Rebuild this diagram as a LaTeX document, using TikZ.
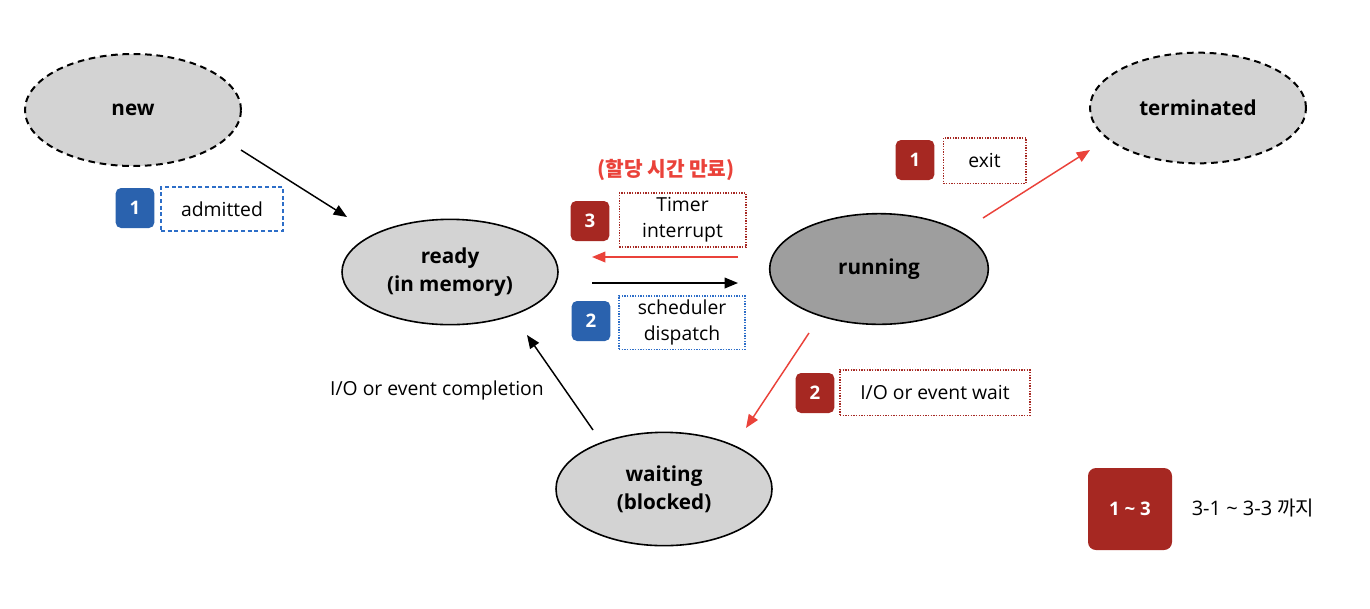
\documentclass[tikz,border=0pt]{standalone}
\usepackage{fontspec}
\setmainfont{Open Sans}
\newfontfamily\kofont{Noto Sans CJK KR}
\usepackage{tikz}
\usetikzlibrary{shapes.geometric,arrows.meta}
\definecolor{stategray}{RGB}{211,211,211}
\definecolor{rungray}{RGB}{158,158,158}
\definecolor{badgered}{RGB}{166,40,34}
\definecolor{badgeblue}{RGB}{42,98,174}
\definecolor{arrowred}{RGB}{234,66,58}
\definecolor{boxblue}{RGB}{45,110,200}
\tikzset{every picture/.style={line width=0.75pt}}
\tikzset{
  state/.style={ellipse, draw, fill=stategray, line width=1.2pt, minimum width=162pt, minimum height=82pt, inner sep=0pt, align=center, font=\fontsize{15.5}{21}\selectfont\bfseries},
  endstate/.style={state, line width=1.5pt, dash pattern={on 5pt off 3.5pt}},
  badge/.style={rounded corners=4pt, fill=#1, text=white, minimum width=29pt, minimum height=30pt, inner sep=0pt, font=\fontsize{14}{15}\selectfont\bfseries},
  tagbox/.style={draw=#1, fill=white, line width=1pt, dash pattern={on 1pt off 1pt}, align=center, inner sep=0pt, font=\fontsize{14.5}{19.5}\selectfont},
  flow/.style={-{Triangle[length=10pt,width=8pt]}, line width=1.1pt},
}

\begin{document}
\begin{tikzpicture}[x=0.75pt,y=0.75pt,yscale=-1,xscale=1]
		\useasboundingbox (0,0) rectangle (1370,608);
		
		%Shape: Ellipse [new]
		\node [endstate, minimum height=84pt] (new) at (133,110) {new};
		
		%Shape: Ellipse [terminated]
		\node [endstate, minimum height=83pt] (terminated) at (1198,108) {terminated};
		
		%Shape: Ellipse [ready]
		\node [state, minimum height=79pt] (ready) at (450,272) {ready\\(in memory)};
		
		%Shape: Ellipse [running]
		\node [state, fill=rungray, minimum width=164pt, minimum height=83pt] (running) at (879,269) {running};
		
		%Shape: Ellipse [waiting]
		\node [state, minimum height=85pt] (waiting) at (664,489) {waiting\\(blocked)};
		
		
		%Straight Lines [new -> ready]
		\coordinate (newOut) at (241,150);
		\coordinate (readyIn) at (347,217);
		\draw [flow] (newOut) -- (readyIn);
		
		%Straight Lines [running -> ready]
		\coordinate (runLeftTop) at (738,257);
		\coordinate (readyRightTop) at (592,257);
		\draw [flow, color=arrowred] (runLeftTop) -- (readyRightTop);
		
		%Straight Lines [ready -> running]
		\coordinate (readyRightLow) at (592,283);
		\coordinate (runLeftLow) at (738,283);
		\draw [flow] (readyRightLow) -- (runLeftLow);
		
		%Straight Lines [running -> terminated]
		\coordinate (runOut) at (983,218);
		\coordinate (termIn) at (1090,150);
		\draw [flow, color=arrowred] (runOut) -- (termIn);
		
		%Straight Lines [running -> waiting]
		\coordinate (runDown) at (809,333);
		\coordinate (waitIn) at (746,428);
		\draw [flow, color=arrowred] (runDown) -- (waitIn);
		
		%Straight Lines [waiting -> ready]
		\coordinate (waitOut) at (593,430);
		\coordinate (readyDown) at (527,335);
		\draw [flow] (waitOut) -- (readyDown);
		
		
		% Badges and labels
		\node [badge=badgeblue] (admitNum) at (135,208) {1};
		\node [tagbox=boxblue, dash pattern={on 3pt off 2pt}, minimum width=91.5pt, minimum height=33pt] (admitBox) at (222,209) {admitted};
		
		\node [badge=badgered] (timerNum) at (590,221) {3};
		\node [tagbox=badgered, minimum width=95pt, minimum height=40.5pt] (timerBox) at (682.5,220) {Timer\\interrupt};
		
		\node [badge=badgeblue] (dispNum) at (591,321) {2};
		\node [tagbox=boxblue, minimum width=94.5pt, minimum height=40pt] (dispBox) at (682,322.5) {scheduler\\dispatch};
		
		\node [badge=badgered] (exitNum) at (915,160) {1};
		\node [tagbox=badgered, minimum width=62pt, minimum height=34pt] (exitBox) at (984.5,160.5) {exit};
		
		\node [badge=badgered] (waitNum) at (815,393) {2};
		\node [tagbox=badgered, minimum width=142.5pt, minimum height=34pt] (waitBox) at (935,392.5) {I/O or event wait};
		
		% Text Node
		\node [text=arrowred, font=\kofont\fontsize{15.2}{18}\selectfont\bfseries] (timeout) at (666,170) {(할당 시간 만료)};
		% Text Node
		\node [font=\fontsize{14.5}{17}\selectfont] (completion) at (437,390) {I/O or event completion};
		
		% Legend
		\node [badge=badgered, rounded corners=6pt, minimum width=63pt, minimum height=61.5pt] (legendNum) at (1130,509) {1 \textasciitilde{} 3};
		% Text Node
		\node [font=\fontsize{15}{18}\selectfont] (legendText) at (1253,508) {3-1 \textasciitilde{} 3-3 {\kofont 까지}};
		
		\end{tikzpicture}
\end{document}
